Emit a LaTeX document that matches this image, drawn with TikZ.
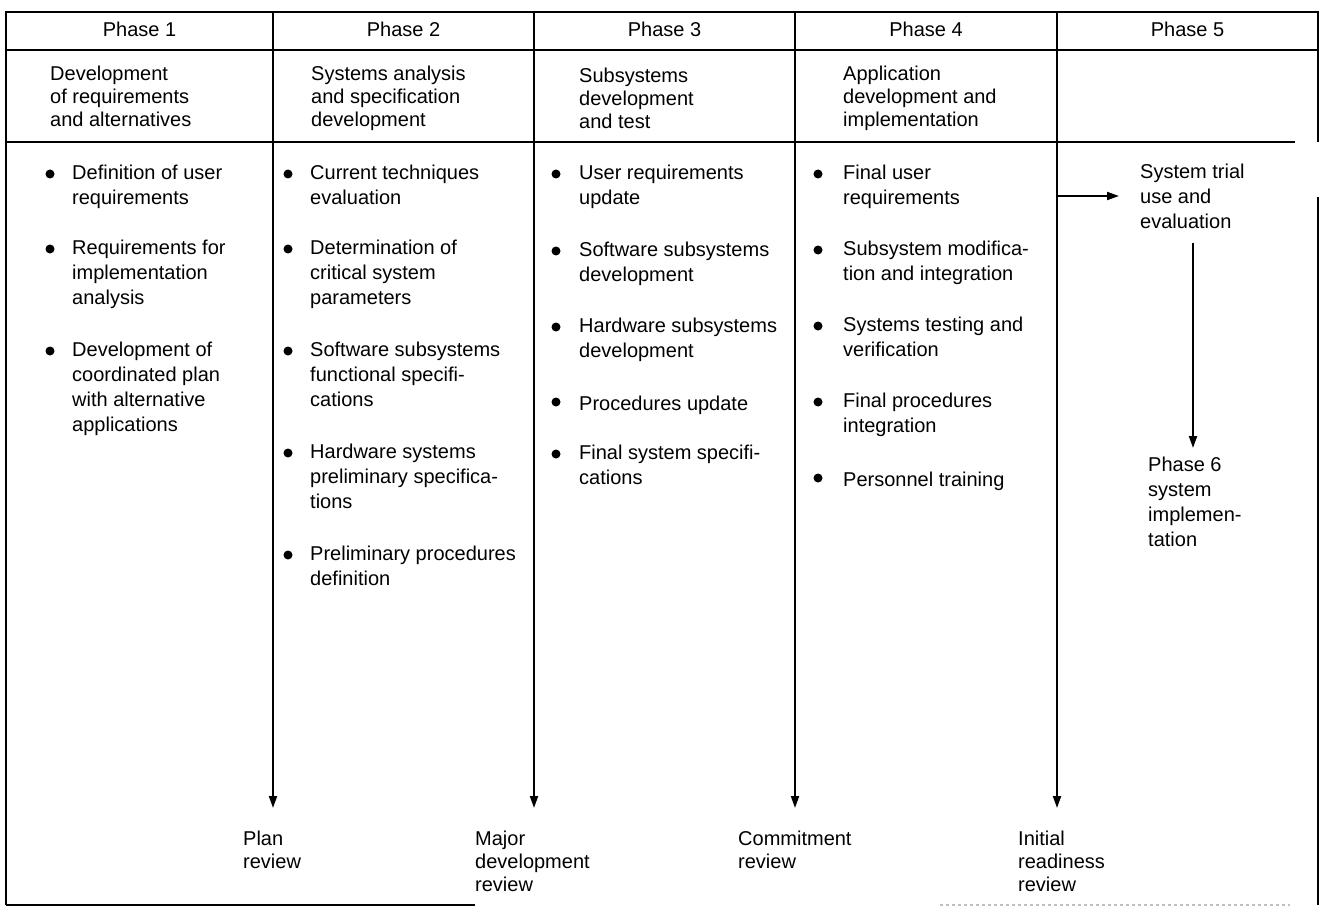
\documentclass[tikz,border=0pt]{standalone}
\usepackage{fontspec}
\setmainfont{Liberation Sans}
\usetikzlibrary{arrows.meta}
\begin{document}
\begin{tikzpicture}[x=1pt,y=-1pt,
  txt/.style={anchor=north west, yshift=15pt, align=left, inner sep=0pt,
    font=\fontsize{20}{25}\selectfont, execute at begin node=\strut},
  htxt/.style={anchor=north west, yshift=14pt, align=left, inner sep=0pt,
    font=\fontsize{20}{23}\selectfont, execute at begin node=\strut},
  hdr/.style={anchor=base, inner sep=0pt, font=\fontsize{20}{24}\selectfont},
  rule/.style={line width=2pt},
  faint/.style={line width=1.2pt, gray!50, dashed},
  arr/.style={line width=2pt, -{Triangle[width=8pt,length=12pt]}},
  bul/.style={circle, fill, inner sep=0pt, minimum size=9pt}
]
\useasboundingbox (0,0) rectangle (1324,920);

% frame
\draw[rule] (6,905) -- (6,12) -- (1318,12) -- (1318,142);
\draw[rule] (6,50) -- (1318,50);
\draw[rule] (6,142) -- (1295,142);
\draw[rule] (1318,197) -- (1318,905);
\draw[rule] (6,905) -- (475,905);
\draw[faint] (940,905) -- (1290,905);
\draw[rule] (1057,12) -- (1057,142);

% phase headers
\node[hdr] (p1) at (139.5,37) {Phase 1};
\node[hdr] (p2) at (403.5,37) {Phase 2};
\node[hdr] (p3) at (664.5,37) {Phase 3};
\node[hdr] (p4) at (926,37) {Phase 4};
\node[hdr] (p5) at (1187.5,37) {Phase 5};

% phase titles
\node[htxt] (t1) at (50,80) {Development\\of requirements\\and alternatives};
\node[htxt] (t2) at (311,80) {Systems analysis\\and specification\\development};
\node[htxt] (t3) at (579,82) {Subsystems\\development\\and test};
\node[htxt] (t4) at (843,80) {Application\\development and\\implementation};

% column 1
\node[txt] (a1) at (72,180) {Definition of user\\requirements};
\node[txt] (a2) at (72,255) {Requirements for\\implementation\\analysis};
\node[txt] (a3) at (72,357) {Development of\\coordinated plan\\with alternative\\applications};
\foreach \y in {174,249,351} \node[bul] at (50,\y) {};

% column 2
\node[txt] (b1) at (310,180) {Current techniques\\evaluation};
\node[txt] (b2) at (310,255) {Determination of\\critical system\\parameters};
\node[txt] (b3) at (310,357) {Software subsystems\\functional specifi-\\cations};
\node[txt] (b4) at (310,459) {Hardware systems\\preliminary specifica-\\tions};
\node[txt] (b5) at (310,561) {Preliminary procedures\\definition};
\foreach \y in {174,249,351,453,555} \node[bul] at (288,\y) {};

% column 3
\node[txt] (c1) at (579,180) {User requirements\\update};
\node[txt] (c2) at (579,257) {Software subsystems\\development};
\node[txt] (c3) at (579,333) {Hardware subsystems\\development};
\node[txt] (c4) at (579,408) {Procedures update};
\node[txt] (c5) at (579,460) {Final system specifi-\\cations};
\foreach \y in {174,251,327,402,454} \node[bul] at (556,\y) {};

% column 4
\node[txt] (d1) at (843,180) {Final user\\requirements};
\node[txt] (d2) at (843,256) {Subsystem modifica-\\tion and integration};
\node[txt] (d3) at (843,332) {Systems testing and\\verification};
\node[txt] (d4) at (843,408) {Final procedures\\integration};
\node[txt] (d5) at (843,484) {Personnel training};
\foreach \y in {174,250,326,402,478} \node[bul] at (818,\y) {};

% phase 5 / 6
\node[txt] (trial) at (1140,179) {System trial\\use and\\evaluation};
\node[txt] (impl) at (1148,472) {Phase 6\\system\\implemen-\\tation};
\coordinate (h0) at (1057,196);
\coordinate (h1) at (1119,196);
\draw[arr] (h0) -- (h1);
\coordinate (v0) at (1193,243);
\coordinate (v1) at (1193,448);
\draw[arr] (v0) -- (v1);

% review arrows
\foreach \x/\n in {273/1,534/2,795/3,1057/4} {
  \coordinate (top\n) at (\x,12);
  \coordinate (end\n) at (\x,808);
  \draw[arr] (top\n) -- (end\n);
}
\node[htxt] (r1) at (243,845) {Plan\\review};
\node[htxt] (r2) at (475,845) {Major\\development\\review};
\node[htxt] (r3) at (738,845) {Commitment\\review};
\node[htxt] (r4) at (1018,845) {Initial\\readiness\\review};
\end{tikzpicture}
\end{document}
